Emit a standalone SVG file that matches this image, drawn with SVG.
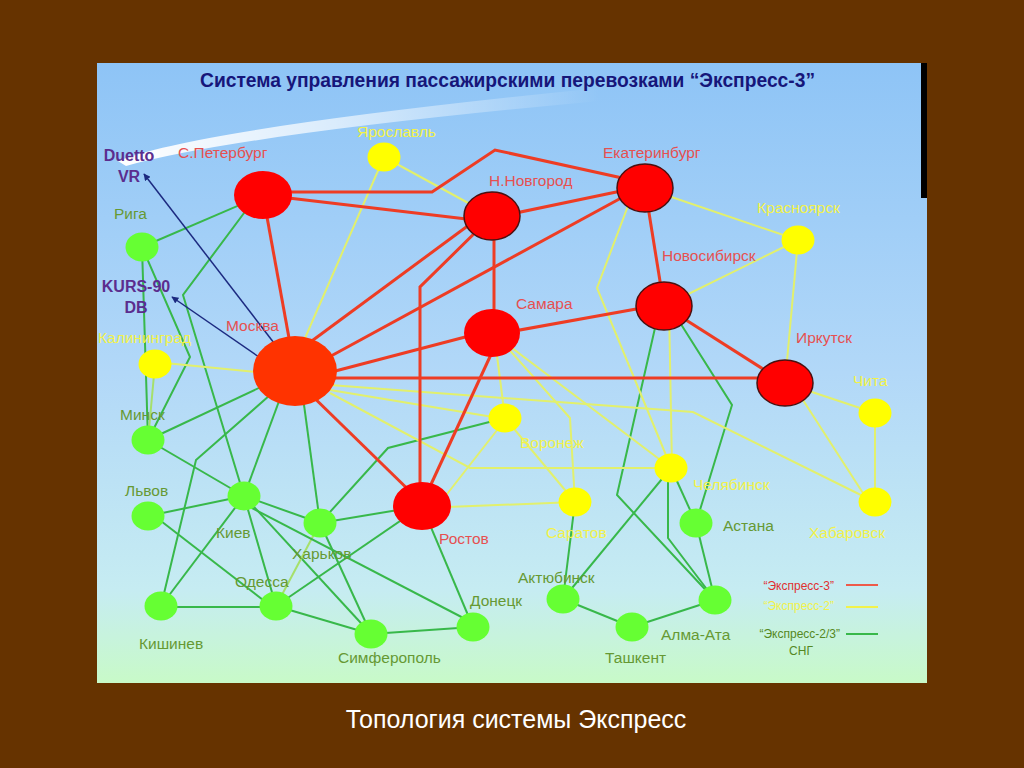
<svg xmlns="http://www.w3.org/2000/svg" width="1024" height="768" viewBox="0 0 1024 768">
<defs>
<linearGradient id="bg" x1="0" y1="0" x2="0" y2="1">
<stop offset="0" stop-color="#8EC4F6"/>
<stop offset="0.5" stop-color="#B2D8F8"/>
<stop offset="0.85" stop-color="#C6ECF2"/>
<stop offset="1" stop-color="#C8FAC8"/>
</linearGradient>
<linearGradient id="beam" x1="118" y1="0" x2="600" y2="0" gradientUnits="userSpaceOnUse">
<stop offset="0" stop-color="#FFFFFF" stop-opacity="1"/>
<stop offset="0.45" stop-color="#FFFFFF" stop-opacity="0.65"/>
<stop offset="1" stop-color="#FFFFFF" stop-opacity="0"/>
</linearGradient>
<marker id="arr" viewBox="0 0 10 10" refX="9" refY="5" markerWidth="7" markerHeight="7" orient="auto" markerUnits="userSpaceOnUse">
<path d="M0,0 L10,5 L0,10 z" fill="#1C2A80"/>
</marker>
<style>
.r{fill:none;stroke:#EE3C24;stroke-width:3}
.y{fill:none;stroke:#E2F06C;stroke-width:2}
.g{fill:none;stroke:#38B84A;stroke-width:2}
.gl{fill:none;stroke:#A6E06A;stroke-width:2}
.a{fill:none;stroke:#1C2A80;stroke-width:1.5}
.nr{fill:#FF0000}
.nro{fill:#FF0000;stroke:#4A1010;stroke-width:1.5}
.nm{fill:#FF3300}
.ny{fill:#FFFF00}
.ng{fill:#66FF33}
text{font-family:"Liberation Sans",Arial,sans-serif}
.tr{fill:#E65050;font-size:15.5px}
.ty{fill:#F2F24A;font-size:15.5px}
.tg{fill:#669933;font-size:15.5px}
.tp{fill:#5B2D8E;font-size:16px;font-weight:bold;text-anchor:middle}
.lg{font-size:12px}
</style>
</defs>
<rect x="0" y="0" width="1024" height="768" fill="#663300"/>
<rect x="97" y="63" width="830" height="620" fill="url(#bg)"/>
<rect x="921" y="63" width="6" height="135" fill="#000000"/>
<path d="M118,161 Q200,128 600,88 L600,101 Q240,134 126,166 Z" fill="url(#beam)"/>
<text x="200" y="87" textLength="615" lengthAdjust="spacingAndGlyphs" font-size="21" font-weight="bold" fill="#16167A">Система управления пассажирскими перевозками “Экспресс-3”</text>

<g id="connectors">
<path class="g" d="M142,247 L263,195"/>
<path class="g" d="M250,205 L183,295 L244,496"/>
<path class="g" d="M142,247 L148,440"/>
<path class="g" d="M142,247 L190,357 L148,440"/>
<path class="g" d="M295,371 L148,440"/>
<path class="g" d="M270,395 L196,460 L161,606"/>
<path class="g" d="M285,385 L244,496"/>
<path class="g" d="M302,390 L320,523"/>
<path class="g" d="M148,440 L244,496"/>
<path class="g" d="M148,516 L244,496"/>
<path class="g" d="M148,511 L276,610"/>
<path class="g" d="M244,496 L320,523"/>
<path class="g" d="M244,496 L161,606"/>
<path class="g" d="M244,496 L276,606"/>
<path class="g" d="M244,496 L371,634"/>
<path class="g" d="M161,607 L276,607"/>
<path class="g" d="M276,606 L371,634"/>
<path class="gl" d="M320,523 L276,606"/>
<path class="g" d="M320,523 L371,634"/>
<path class="g" d="M320,523 L388,448 L505,418"/>
<path class="g" d="M320,523 L422,506"/>
<path class="g" d="M276,606 L422,506"/>
<path class="g" d="M371,634 L473,627"/>
<path class="g" d="M244,504 L473,623"/>
<path class="g" d="M422,506 L473,627"/>
<path class="g" d="M575,502 L563,599"/>
<path class="g" d="M671,468 L563,599"/>
<path class="g" d="M563,599 L632,627"/>
<path class="g" d="M632,627 L715,600"/>
<path class="g" d="M696,523 L715,600"/>
<path class="g" d="M671,468 L696,523"/>
<path class="g" d="M668,468 L668,538 L715,600"/>
<path class="g" d="M660,306 L617,495 L715,600"/>
<path class="g" d="M672,310 L732,405 L696,523"/>

<path class="y" d="M384,157 L302,345"/>
<path class="y" d="M384,157 L492,216"/>
<path class="y" d="M645,188 L798,240"/>
<path class="y" d="M798,240 L664,306"/>
<path class="y" d="M798,240 L785,383"/>
<path class="y" d="M634,190 L597,288 L668,460"/>
<path class="y" d="M669,306 L672,468"/>
<path class="y" d="M155,362 L295,376"/>
<path class="gl" d="M155,364 L148,440"/>
<path class="y" d="M330,385 L693,412 L875,502"/>
<path class="y" d="M330,390 L505,419"/>
<path class="y" d="M330,393 L470,468 L671,468"/>
<path class="y" d="M495,340 L505,418"/>
<path class="y" d="M505,345 L570,418 L575,502"/>
<path class="y" d="M492,333 L671,468"/>
<path class="y" d="M505,418 L575,502"/>
<path class="y" d="M505,420 L440,503"/>
<path class="y" d="M422,508 L575,502"/>
<path class="y" d="M785,383 L875,413"/>
<path class="y" d="M792,383 L870,504"/>
<path class="y" d="M875,413 L875,502"/>

<path class="r" d="M263,195 L295,371"/>
<path class="r" d="M263,192 L432,192 L495,150 L645,183"/>
<path class="r" d="M263,195 L492,222"/>
<path class="r" d="M492,218 L645,186"/>
<path class="r" d="M305,346 L492,208"/>
<path class="r" d="M320,362 L645,185"/>
<path class="r" d="M492,216 L420,287 L420,506"/>
<path class="r" d="M494,216 L494,333"/>
<path class="r" d="M320,375 L492,330"/>
<path class="r" d="M300,378 L785,378"/>
<path class="r" d="M300,384 L422,503"/>
<path class="r" d="M500,335 L421,506"/>
<path class="r" d="M492,335 L664,304"/>
<path class="r" d="M645,188 L664,306"/>
<path class="r" d="M664,306 L785,383"/>

<path class="a" d="M274,343 L144,174" marker-end="url(#arr)"/>
<path class="a" d="M259,357 L172,297" marker-end="url(#arr)"/>
</g>

<g id="n-spb"><ellipse class="nr" cx="263" cy="195" rx="29" ry="24"/><text class="tr" x="178" y="158">С.Петербург</text></g>
<g id="n-moscow"><ellipse class="nm" cx="295" cy="371" rx="42" ry="35"/><text class="tr" x="226" y="331">Москва</text></g>
<g id="n-nnovgorod"><ellipse class="nro" cx="492" cy="216" rx="28" ry="24"/><text class="tr" x="489" y="186">Н.Новгород</text></g>
<g id="n-ekat"><ellipse class="nro" cx="645" cy="188" rx="28" ry="24"/><text class="tr" x="603" y="158">Екатеринбург</text></g>
<g id="n-samara"><ellipse class="nr" cx="492" cy="333" rx="28" ry="24"/><text class="tr" x="516" y="309">Самара</text></g>
<g id="n-novosib"><ellipse class="nro" cx="664" cy="306" rx="28" ry="24"/><text class="tr" x="662" y="261">Новосибирск</text></g>
<g id="n-irkutsk"><ellipse class="nro" cx="785" cy="383" rx="28" ry="23"/><text class="tr" x="796" y="343">Иркутск</text></g>
<g id="n-rostov"><ellipse class="nr" cx="422" cy="506" rx="29" ry="24"/><text class="tr" x="439" y="544">Ростов</text></g>

<g id="n-yaroslavl"><ellipse class="ny" cx="384" cy="157" rx="16.5" ry="14.5"/><text class="ty" x="357" y="137">Ярославль</text></g>
<g id="n-krasnoyarsk"><ellipse class="ny" cx="798" cy="240" rx="16.5" ry="14.5"/><text class="ty" x="757" y="213">Красноярск</text></g>
<g id="n-kaliningrad"><ellipse class="ny" cx="155" cy="364" rx="16.5" ry="14.5"/><text class="ty" x="98" y="343">Калининград</text></g>
<g id="n-voronezh"><ellipse class="ny" cx="505" cy="418" rx="16.5" ry="14.5"/><text class="ty" x="520" y="448">Воронеж</text></g>
<g id="n-chelyabinsk"><ellipse class="ny" cx="671" cy="468" rx="16.5" ry="14.5"/><text class="ty" x="693" y="490">Челябинск</text></g>
<g id="n-saratov"><ellipse class="ny" cx="575" cy="502" rx="16.5" ry="14.5"/><text class="ty" x="546" y="538">Саратов</text></g>
<g id="n-chita"><ellipse class="ny" cx="875" cy="413" rx="16.5" ry="14.5"/><text class="ty" x="853" y="386">Чита</text></g>
<g id="n-khabarovsk"><ellipse class="ny" cx="875" cy="502" rx="16.5" ry="14.5"/><text class="ty" x="809" y="538">Хабаровск</text></g>

<g id="n-riga"><ellipse class="ng" cx="142" cy="247" rx="16.5" ry="14.5"/><text class="tg" x="114" y="219">Рига</text></g>
<g id="n-minsk"><ellipse class="ng" cx="148" cy="440" rx="16.5" ry="14.5"/><text class="tg" x="120" y="420">Минск</text></g>
<g id="n-lvov"><ellipse class="ng" cx="148" cy="516" rx="16.5" ry="14.5"/><text class="tg" x="125" y="496">Львов</text></g>
<g id="n-kiev"><ellipse class="ng" cx="244" cy="496" rx="16.5" ry="14.5"/><text class="tg" x="216" y="538">Киев</text></g>
<g id="n-kharkov"><ellipse class="ng" cx="320" cy="523" rx="16.5" ry="14.5"/><text class="tg" x="292" y="559">Харьков</text></g>
<g id="n-kishinev"><ellipse class="ng" cx="161" cy="606" rx="16.5" ry="14.5"/><text class="tg" x="139" y="649">Кишинев</text></g>
<g id="n-odessa"><ellipse class="ng" cx="276" cy="606" rx="16.5" ry="14.5"/><text class="tg" x="235" y="587">Одесса</text></g>
<g id="n-simferopol"><ellipse class="ng" cx="371" cy="634" rx="16.5" ry="14.5"/><text class="tg" x="338" y="663">Симферополь</text></g>
<g id="n-donetsk"><ellipse class="ng" cx="473" cy="627" rx="16.5" ry="14.5"/><text class="tg" x="470" y="606">Донецк</text></g>
<g id="n-aktyubinsk"><ellipse class="ng" cx="563" cy="599" rx="16.5" ry="14.5"/><text class="tg" x="518" y="583">Актюбинск</text></g>
<g id="n-tashkent"><ellipse class="ng" cx="632" cy="627" rx="16.5" ry="14.5"/><text class="tg" x="605" y="663">Ташкент</text></g>
<g id="n-almaata"><ellipse class="ng" cx="715" cy="600" rx="16.5" ry="14.5"/><text class="tg" x="661" y="640">Алма-Ата</text></g>
<g id="n-astana"><ellipse class="ng" cx="696" cy="523" rx="16.5" ry="14.5"/><text class="tg" x="723" y="531">Астана</text></g>

<g id="n-duetto"><text class="tp" x="129" y="161">Duetto</text><text class="tp" x="129" y="182">VR</text></g>
<g id="n-kurs"><text class="tp" x="136" y="292">KURS-90</text><text class="tp" x="136" y="313">DB</text></g>

<g id="legend">
<text class="lg" x="834" y="590" text-anchor="end" fill="#E03030">“Экспресс-3”</text>
<path d="M846,585 L878,585" stroke="#EE5A4A" stroke-width="2"/>
<text class="lg" x="834" y="610" text-anchor="end" fill="#F2F24A">“Экспресс-2”</text>
<path d="M846,607 L878,607" stroke="#F2F24A" stroke-width="2"/>
<text class="lg" x="840" y="638" text-anchor="end" fill="#558822">“Экспресс-2/3”</text>
<text class="lg" x="801" y="655" text-anchor="middle" fill="#558822">СНГ</text>
<path d="M846,634 L878,634" stroke="#38B84A" stroke-width="2"/>
</g>

<text x="516" y="728" text-anchor="middle" font-size="25" fill="#FFFFFF">Топология системы Экспресс</text>
</svg>
